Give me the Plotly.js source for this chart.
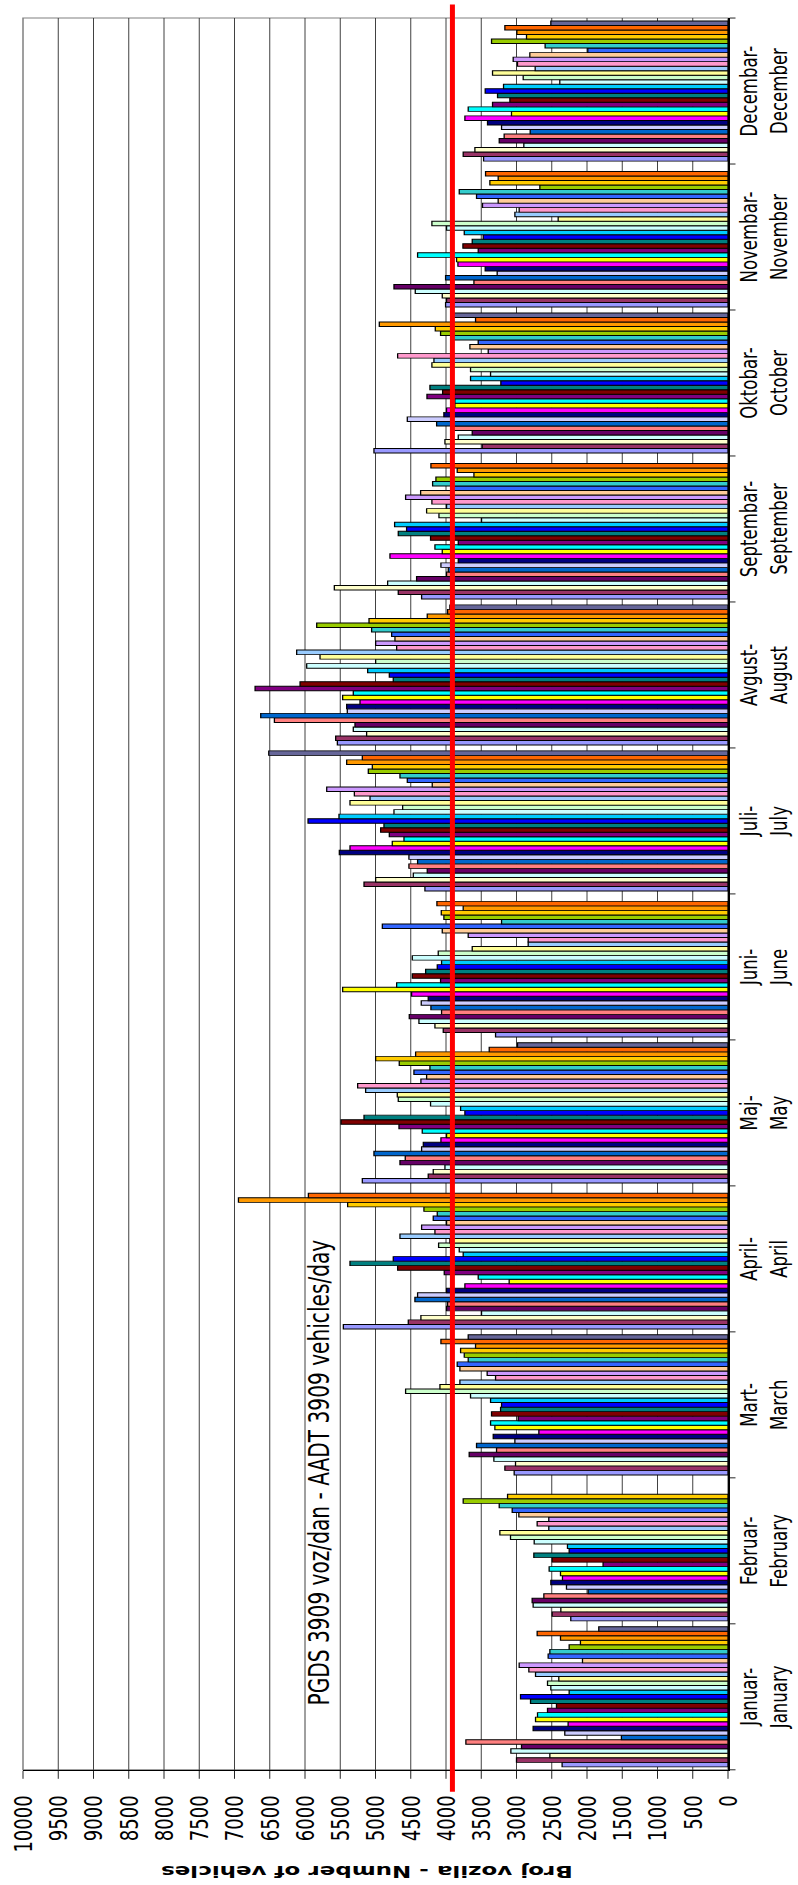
<!DOCTYPE html>
<html>
<head>
<meta charset="utf-8">
<script src="https://cdn.plot.ly/plotly-3.0.1.min.js"></script>
<style>
html,body{margin:0;padding:0;width:798px;height:1885px;overflow:hidden;background:#fff;}
#wrap{position:absolute;left:0;top:0;width:798px;height:1885px;overflow:hidden;}
#chart{position:absolute;left:0;top:0;width:2618px;height:798px;transform-origin:0 0;
  transform:translate(0px,1885px) rotate(-90deg) scaleX(0.72);}
</style>
</head>
<body>
<div id="wrap"><div id="chart"></div></div>
<script>
// Month categories (tick labels)
const months = ['Januar-<br>January','Februar-<br>February','Mart-<br>March','April-<br>April',
  'Maj-<br>May','Juni-<br>June','Juli-<br>July','Avgust-<br>August','Septembar-<br>September',
  'Oktobar-<br>October','Novembar-<br>November','Decembar-<br>December'];

// Daily traffic (vehicles/day), day 1..31 for each month
const jan = [2353,3000,2527,3080,2929,3718,1512,2315,2764,2268,2730,2702,2560,2433,2801,2943,2253,2513,2560,2400,2730,2825,2962,2064,2551,2527,2253,2093,2376,2707,1833];
const feb = [2230,2494,2371,2764,2778,2612,1984,2291,2513,2348,2376,2537,1772,2494,2754,2253,2277,2749,3085,3236,2542,2707,2542,2967,3061,3245,3756,3127];
const mar = [3033,3165,3014,3321,3671,3283,3567,3023,3330,2683,3307,3368,2976,3354,3226,3212,3368,3652,4573,4086,3803,3297,3416,3803,3841,3685,3741,3793,3581,4072,3685];
const apr = [5456,4535,4356,3496,3992,3978,4441,4403,3992,3732,3104,3543,4025,4686,5362,4748,3756,3812,4105,3945,4653,4157,4346,3992,4181,4124,4313,5395,6944,5952];
const may = [5187,4252,4181,4015,4653,4578,5022,4346,4322,4072,3992,4337,4667,5489,5163,3732,3793,4219,4677,4691,5140,5253,4356,4275,4455,4228,4663,4998,4431,3387,2986];
const jun = [3297,4039,4157,4384,4521,4063,4214,4351,4252,4488,5466,4700,4077,4478,4289,4124,4063,4478,4110,3628,2834,2834,3685,4053,4903,3212,4030,4067,3756,4129];
const jul = [4299,5163,4998,4464,4266,4526,4403,4526,5513,5362,4762,4596,4804,4927,4880,5957,5518,4738,4615,5362,5078,5300,5692,4195,4549,4653,5102,5045,5409,5187,6514];
const aug = [5541,5565,5126,5315,5291,6434,6628,5400,5409,5220,5466,5315,6708,6070,4748,4804,5111,5976,4998,5787,6118,4700,4998,4724,4771,5055,5834,5092,4266,3978,3945];
const sep = [4346,4677,5584,4828,4417,3992,3968,4072,3826,4795,4053,4157,3826,4219,4677,4559,4729,3496,4100,4275,3992,4200,4573,4360,3897,4190,4143,3604,3841,4214];
const oct = [5022,3486,4015,3826,3628,3911,4133,4549,4030,3992,3874,3874,4270,4048,4228,3222,3652,3368,3652,4200,4171,4686,3401,3661,3543,3900,4077,4152,4946,3581,3921];
const nov = [4006,3992,4053,4436,4738,3604,4006,3274,3444,3831,3850,4403,3543,3760,3628,3472,3741,3992,4200,2409,3023,2962,3482,3260,3567,3812,2669,3378,3260,3439];
const dec = [3467,3756,3590,2896,3245,3175,2806,3212,3411,3732,3071,3685,3340,3094,3269,3444,3184,2386,2905,3340,2735,2986,3047,2811,1989,2594,3354,2858,2995,3165,2513];

// Annual average daily traffic
const AADT = 3909;
const aadtLabel = 'PGDS 3909 voz/dan - AADT 3909 vehicles/day';
const yTitle = 'Broj vozila - Number of vehicles';

// Series colours for day 1..31
const dayColors = ['#9999FF','#993366','#FFFFCC','#CCFFFF','#660066','#FF8080','#0066CC','#CCCCFF',
  '#000080','#FF00FF','#FFFF00','#00FFFF','#800080','#800000','#008080','#0000FF','#00CCFF',
  '#CCFFFF','#CCFFCC','#FFFF99','#99CCFF','#FF99CC','#CC99FF','#FFCC99','#3366FF','#33CCCC',
  '#99CC00','#FFCC00','#FF9900','#FF6600','#666699'];

const allMonths = [jan,feb,mar,apr,may,jun,jul,aug,sep,oct,nov,dec];
const traces = [];
for (let d = 0; d < 31; d++) {
  traces.push({
    type:'bar', name:'Day '+(d+1), x: months,
    y: allMonths.map(m => (m[d] === undefined ? null : m[d])),
    marker:{color: dayColors[d], line:{color:'#000000', width:1.3}},
    hoverinfo:'skip'
  });
}

const FONT = 'DejaVu Sans, Verdana, sans-serif';
const layout = {
  width:2618, height:798,
  margin:{l:160, r:25, t:23, b:70},
  paper_bgcolor:'#ffffff', plot_bgcolor:'#ffffff',
  showlegend:false,
  barmode:'group', bargap:0.04, bargroupgap:0,
  font:{family:FONT, color:'#000'},
  xaxis:{type:'category', categoryorder:'array', categoryarray:months,
    showline:true, linecolor:'#000', linewidth:1.5,
    ticks:'outside', tickson:'boundaries', ticklen:6, tickcolor:'#000',
    showgrid:false, tickfont:{family:FONT, size:23, color:'#000'}, automargin:false},
  yaxis:{range:[0,10000], tick0:0, dtick:500, tickformat:'d', showline:true, linecolor:'#000', linewidth:1.5,
    ticks:'outside', ticklen:11, tickcolor:'#000', ticklabelstandoff:18,
    showgrid:true, gridcolor:'#222', gridwidth:1, zeroline:false,
    tickfont:{family:FONT, size:25, color:'#000'}, automargin:false},
  shapes:[
    {type:'rect', xref:'paper', yref:'paper', x0:0, x1:1, y0:0, y1:1,
      line:{color:'#808080', width:1.5}, fillcolor:'rgba(0,0,0,0)', layer:'below'},
    {type:'line', xref:'paper', yref:'y', x0:-0.0126, x1:1.0078, y0:AADT, y1:AADT,
      line:{color:'#FF0000', width:5}, layer:'above'}
  ],
  annotations:[
    {xref:'paper', yref:'y', x:0.0358, y:5790, xanchor:'left', yanchor:'middle',
      text:aadtLabel, showarrow:false, font:{family:FONT, size:28, color:'#000'}},
    {xref:'paper', yref:'paper', x:-0.058, y:0.512, xanchor:'center', yanchor:'middle',
      textangle:-90, text:'<b>'+yTitle+'</b>', showarrow:false,
      font:{family:FONT, size:23, color:'#000'}}
  ]
};
Plotly.newPlot('chart', traces, layout, {displayModeBar:false, staticPlot:true});
</script>
</body>
</html>
